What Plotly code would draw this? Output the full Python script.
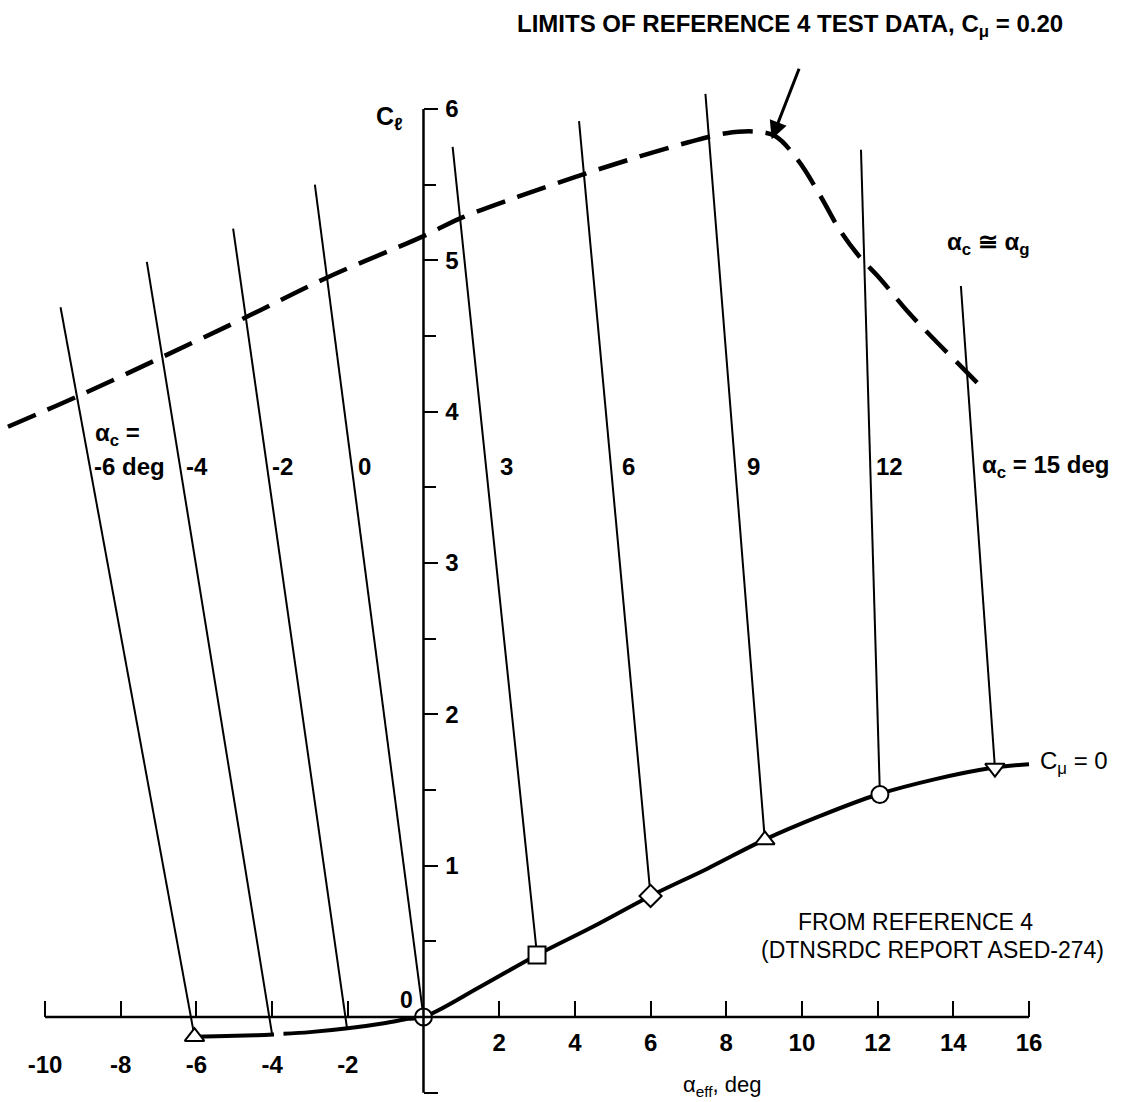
import plotly.graph_objects as go

# ---- data -------------------------------------------------------------
# C_mu = 0 curve (section lift at zero blowing)
base_alpha_a = [-6.05, -5.2, -4.4, -3.95]
base_cl_a = [-0.13, -0.125, -0.12, -0.115]
base_alpha_b = [-3.7, -3.0, -2.0, -1.0, -0.4, 0.0, 1.5, 3.0, 4.5, 6.0, 7.5, 9.0, 10.5, 12.0, 13.5, 15.0, 16.0]
base_cl_b = [-0.11, -0.10, -0.075, -0.04, -0.012, 0.0, 0.2, 0.41, 0.6, 0.8, 0.98, 1.17, 1.33, 1.47, 1.57, 1.645, 1.67]

# limits of test data, C_mu = 0.20
lim_alpha = [-10.98, -9.15, -6.91, -4.72, -2.6, 0.0, 1.0, 2.5, 4.0, 5.5, 7.0, 8.0, 8.8, 9.3, 9.9, 10.5, 11.0, 11.5, 12.06, 12.8, 13.6, 14.36, 14.83]
lim_cl = [3.90, 4.10, 4.36, 4.62, 4.88, 5.16, 5.28, 5.42, 5.55, 5.67, 5.78, 5.84, 5.85, 5.82, 5.66, 5.42, 5.2, 5.03, 4.88, 4.66, 4.45, 4.26, 4.14]

# constant alpha_c lines: lower end on C_mu = 0 curve, upper end
alpha_c = [-6, -4, -2, 0, 3, 6, 9, 12, 15]
low_alpha = [-6.05, -4.0, -2.02, 0.0, 3.0, 6.0, 9.02, 12.06, 15.1]
low_cl = [-0.13, -0.115, -0.075, 0.0, 0.41, 0.80, 1.17, 1.47, 1.645]
top_alpha = [-9.59, -7.31, -5.03, -2.87, 0.77, 4.11, 7.45, 11.56, 14.2]
top_cl = [4.69, 4.99, 5.21, 5.5, 5.75, 5.92, 6.1, 5.73, 4.83]
marker_symbols = ["triangle-up", None, None, "circle", "square", "diamond", "triangle-up", "circle", "triangle-down"]

x_ticks = [-10, -8, -6, -4, -2, 2, 4, 6, 8, 10, 12, 14, 16]
y_ticks = [-0.5, 1, 2, 3, 4, 5, 6]
y_minor = [0.5, 1.5, 2.5, 3.5, 4.5, 5.5]

alpha_text = ["-6 deg", "-4", "-2", "0", "3", "6", "9", "12", "α<sub>c</sub> = 15 deg"]

# ---- figure -----------------------------------------------------------
FONT = "Liberation Sans"
X_RANGE = [-11.19, 18.51]
Y_RANGE = [-0.5617, 6.72]

fig = go.Figure()

fig.add_trace(go.Scatter(x=lim_alpha, y=lim_cl, mode="lines", line_shape="spline",
                         line=dict(color="black", width=4.5, dash="30px,13px")))

for xa, ya in [(base_alpha_a, base_cl_a), (base_alpha_b, base_cl_b)]:
    fig.add_trace(go.Scatter(x=xa, y=ya, mode="lines", line_shape="spline",
                             line=dict(color="black", width=4)))

for i in range(len(alpha_c)):
    fig.add_trace(go.Scatter(x=[low_alpha[i], top_alpha[i]], y=[low_cl[i], top_cl[i]],
                             mode="lines", line=dict(color="black", width=2)))

idx = [i for i, s in enumerate(marker_symbols) if s]
fig.add_trace(go.Scatter(x=[low_alpha[i] for i in idx], y=[low_cl[i] for i in idx],
                         mode="markers", cliponaxis=False,
                         marker=dict(symbol=[marker_symbols[i] for i in idx], size=17,
                                     color="white", line=dict(color="black", width=2))))

# invisible trace so the second x axis (negative tick labels) is drawn
fig.add_trace(go.Scatter(x=[-10], y=[0], xaxis="x2", mode="markers",
                         marker=dict(opacity=0), hoverinfo="skip"))

x_pos = (0 - Y_RANGE[0]) / (Y_RANGE[1] - Y_RANGE[0])
y_pos = (0 - X_RANGE[0]) / (X_RANGE[1] - X_RANGE[0])

tick_common = dict(showgrid=False, zeroline=False, showline=False,
                   tickcolor="black", tickwidth=2,
                   tickfont=dict(family=FONT, size=24, color="black", weight="bold"))

pos_ticks = [t for t in x_ticks if t > 0]
neg_ticks = [t for t in x_ticks if t < 0]

fig.update_layout(
    width=1124, height=1102,
    margin=dict(l=0, r=0, t=0, b=0),
    paper_bgcolor="white", plot_bgcolor="white",
    showlegend=False,
    xaxis=dict(range=X_RANGE, domain=[0, 1], anchor="free", position=x_pos,
               ticks="inside", ticklen=16, tickvals=pos_ticks,
               ticktext=[str(t) for t in pos_ticks], ticklabelstandoff=9,
               **tick_common),
    xaxis2=dict(range=X_RANGE, overlaying="x", matches="x", anchor="free", position=x_pos,
                ticks="inside", ticklen=16, tickvals=neg_ticks,
                ticktext=[str(t) for t in neg_ticks], ticklabelstandoff=31,
                **tick_common),
    yaxis=dict(range=Y_RANGE, domain=[0, 1], anchor="free", position=y_pos, side="right",
               ticks="outside", ticklen=14, tickvals=y_ticks,
               ticktext=[str(t) for t in y_ticks], ticklabelstandoff=2,
               minor=dict(tickvals=y_minor, ticks="outside", ticklen=12,
                          tickwidth=2, tickcolor="black"),
               **tick_common),
)

# axis lines
fig.add_shape(type="line", x0=-10, x1=16, y0=0, y1=0, xref="x", yref="y",
              line=dict(color="black", width=2.5))
fig.add_shape(type="line", x0=0, x1=0, y0=-0.5, y1=6, xref="x", yref="y",
              line=dict(color="black", width=2.5))


def label(text, x, y, xanchor="left", size=24, bold=False):
    fig.add_annotation(x=x, y=y, text=text, showarrow=False,
                       xanchor=xanchor, yanchor="middle",
                       font=dict(family=FONT, size=size, color="black",
                                 weight="bold" if bold else "normal"))


label("LIMITS OF REFERENCE 4 TEST DATA, C<sub>μ</sub> = 0.20", 9.68, 6.55, "center", 24, True)
fig.add_annotation(x=9.2, y=5.8, ax=28, ay=-72, showarrow=True, arrowhead=2,
                   arrowsize=1.2, arrowwidth=3, arrowcolor="black", text="")

label("C<sub>ℓ</sub>", -0.9, 5.94, "center", 25, True)
label("0", -0.46, 0.11, "center", 23, True)

label("α<sub>c</sub> =", -8.73, 3.85, bold=True)
alpha_text_x = [-8.76, -6.33, -4.06, -1.78, 1.97, 5.19, 8.50, 11.9, 14.70]
for tx, tt in zip(alpha_text_x, alpha_text):
    label(tt, tx, 3.64, bold=True)

label("α<sub>c</sub> ≅ α<sub>g</sub>", 13.78, 5.11, size=24, bold=True)
label("C<sub>μ</sub> = 0", 16.24, 1.68, size=24)
label("FROM REFERENCE 4", 13.01, 0.628, "center", 23)
label("(DTNSRDC REPORT ASED-274)", 13.46, 0.443, "center", 23)
label("α<sub>eff</sub>, deg", 7.89, -0.456, "center", 22)

fig.write_html("out.html")
